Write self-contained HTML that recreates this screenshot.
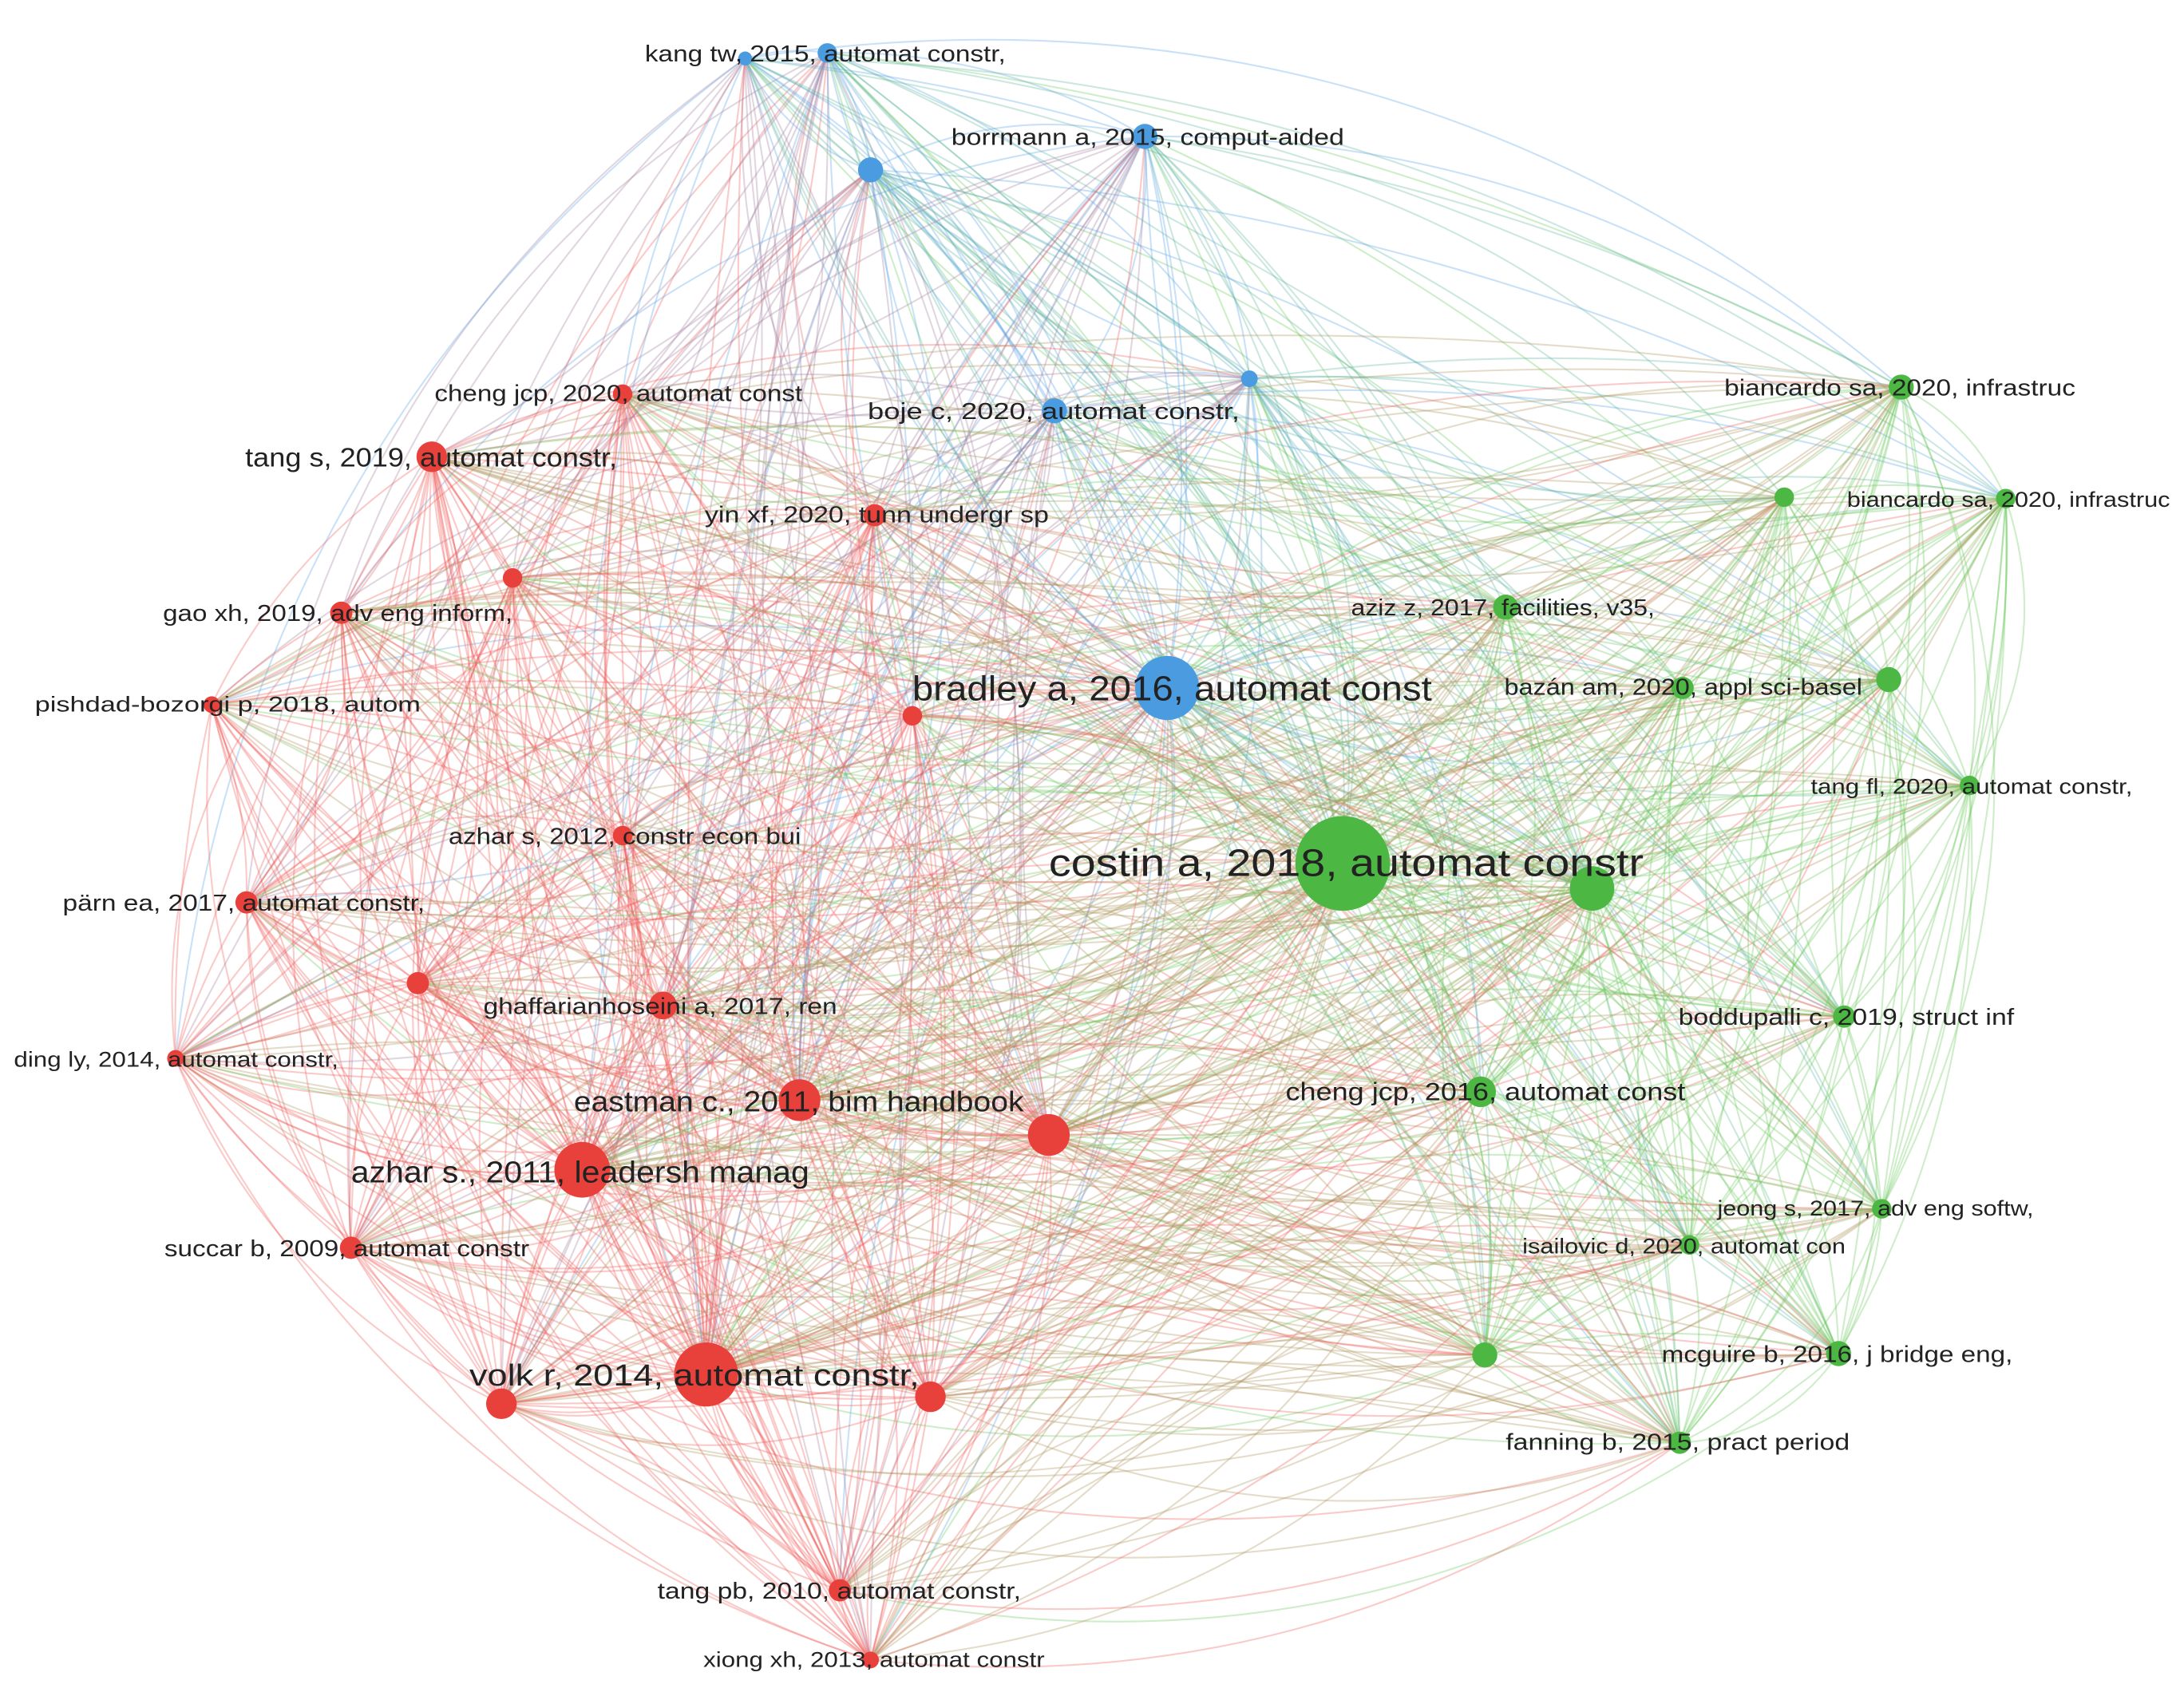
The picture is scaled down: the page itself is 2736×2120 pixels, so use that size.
<!DOCTYPE html>
<html><head><meta charset="utf-8"><style>
html,body{margin:0;padding:0;background:#fff;width:2736px;height:2120px;overflow:hidden}
svg{display:block}
text{font-family:"Liberation Sans",sans-serif;fill:#222}
</style></head><body>
<svg id="s" width="2736" height="2120" viewBox="0 0 1568 1215" preserveAspectRatio="none">
<g id="edges" fill="none" stroke-width="1.2" stroke-opacity="0.33"></g>
<g id="nodes">
<circle cx="594" cy="38" r="7" fill="#4a9be0"/>
<circle cx="535" cy="42" r="5" fill="#4a9be0"/>
<circle cx="625" cy="122" r="9" fill="#4a9be0"/>
<circle cx="822" cy="98" r="9" fill="#4a9be0"/>
<circle cx="757" cy="295" r="9" fill="#4a9be0"/>
<circle cx="897" cy="272" r="6" fill="#4a9be0"/>
<circle cx="838" cy="494" r="23" fill="#4a9be0"/>
<circle cx="447" cy="283" r="7" fill="#e8413c"/>
<circle cx="310" cy="328" r="11" fill="#e8413c"/>
<circle cx="368" cy="415" r="7" fill="#e8413c"/>
<circle cx="628" cy="370" r="8" fill="#e8413c"/>
<circle cx="245" cy="440" r="8" fill="#e8413c"/>
<circle cx="152" cy="506" r="6" fill="#e8413c"/>
<circle cx="655" cy="514" r="7" fill="#e8413c"/>
<circle cx="447" cy="600" r="7" fill="#e8413c"/>
<circle cx="177" cy="648" r="8" fill="#e8413c"/>
<circle cx="300" cy="706" r="8" fill="#e8413c"/>
<circle cx="476" cy="722" r="10" fill="#e8413c"/>
<circle cx="126" cy="760" r="6" fill="#e8413c"/>
<circle cx="574" cy="790" r="15" fill="#e8413c"/>
<circle cx="753" cy="815" r="15" fill="#e8413c"/>
<circle cx="418" cy="840" r="20" fill="#e8413c"/>
<circle cx="252" cy="896" r="8" fill="#e8413c"/>
<circle cx="507" cy="987" r="23" fill="#e8413c"/>
<circle cx="360" cy="1008" r="11" fill="#e8413c"/>
<circle cx="668" cy="1003" r="11" fill="#e8413c"/>
<circle cx="603" cy="1142" r="8" fill="#e8413c"/>
<circle cx="625" cy="1192" r="6" fill="#e8413c"/>
<circle cx="1365" cy="278" r="9" fill="#4cb843"/>
<circle cx="1281" cy="357" r="7" fill="#4cb843"/>
<circle cx="1440" cy="358" r="7" fill="#4cb843"/>
<circle cx="1081" cy="436" r="9" fill="#4cb843"/>
<circle cx="1208" cy="494" r="8" fill="#4cb843"/>
<circle cx="1356" cy="488" r="9" fill="#4cb843"/>
<circle cx="1414" cy="564" r="7" fill="#4cb843"/>
<circle cx="964" cy="620" r="34" fill="#4cb843"/>
<circle cx="1143" cy="638" r="16" fill="#4cb843"/>
<circle cx="1324" cy="730" r="8" fill="#4cb843"/>
<circle cx="1063" cy="784" r="11" fill="#4cb843"/>
<circle cx="1351" cy="868" r="7" fill="#4cb843"/>
<circle cx="1213" cy="894" r="7" fill="#4cb843"/>
<circle cx="1066" cy="973" r="9" fill="#4cb843"/>
<circle cx="1320" cy="972" r="9" fill="#4cb843"/>
<circle cx="1206" cy="1036" r="8" fill="#4cb843"/>
</g>
<g id="labels" font-size="16.5" lengthAdjust="spacingAndGlyphs">
<text x="463" y="44" textLength="259" lengthAdjust="spacingAndGlyphs">kang tw, 2015, automat constr,</text>
<text x="683" y="104" textLength="282" lengthAdjust="spacingAndGlyphs">borrmann a, 2015, comput-aided</text>
<text x="623" y="301" textLength="267" lengthAdjust="spacingAndGlyphs">boje c, 2020, automat constr,</text>
<text x="655" y="503" font-size="25" textLength="373" lengthAdjust="spacingAndGlyphs">bradley a, 2016, automat const</text>
<text x="312" y="288" textLength="264" lengthAdjust="spacingAndGlyphs">cheng jcp, 2020, automat const</text>
<text x="176" y="335" font-size="19" textLength="267" lengthAdjust="spacingAndGlyphs">tang s, 2019, automat constr,</text>
<text x="506" y="375" textLength="247" lengthAdjust="spacingAndGlyphs">yin xf, 2020, tunn undergr sp</text>
<text x="117" y="446" textLength="251" lengthAdjust="spacingAndGlyphs">gao xh, 2019, adv eng inform,</text>
<text x="25" y="511" font-size="15.5" textLength="277" lengthAdjust="spacingAndGlyphs">pishdad-bozorgi p, 2018, autom</text>
<text x="322" y="606" textLength="253" lengthAdjust="spacingAndGlyphs">azhar s, 2012, constr econ bui</text>
<text x="45" y="654" textLength="260" lengthAdjust="spacingAndGlyphs">pärn ea, 2017, automat constr,</text>
<text x="347" y="728" textLength="254" lengthAdjust="spacingAndGlyphs">ghaffarianhoseini a, 2017, ren</text>
<text x="10" y="766" font-size="15.5" textLength="233" lengthAdjust="spacingAndGlyphs">ding ly, 2014, automat constr,</text>
<text x="412" y="798" font-size="20.5" textLength="323" lengthAdjust="spacingAndGlyphs">eastman c., 2011, bim handbook</text>
<text x="252" y="849" font-size="22" textLength="329" lengthAdjust="spacingAndGlyphs">azhar s., 2011, leadersh manag</text>
<text x="118" y="902" textLength="262" lengthAdjust="spacingAndGlyphs">succar b, 2009, automat constr</text>
<text x="337" y="995" font-size="22" textLength="323" lengthAdjust="spacingAndGlyphs">volk r, 2014, automat constr,</text>
<text x="472" y="1148" textLength="261" lengthAdjust="spacingAndGlyphs">tang pb, 2010, automat constr,</text>
<text x="505" y="1197" font-size="15.5" textLength="245" lengthAdjust="spacingAndGlyphs">xiong xh, 2013, automat constr</text>
<text x="1238" y="284" textLength="252" lengthAdjust="spacingAndGlyphs">biancardo sa, 2020, infrastruc</text>
<text x="1326" y="364" font-size="15.5" textLength="232" lengthAdjust="spacingAndGlyphs">biancardo sa, 2020, infrastruc</text>
<text x="970" y="442" textLength="218" lengthAdjust="spacingAndGlyphs">aziz z, 2017, facilities, v35,</text>
<text x="1080" y="499" textLength="257" lengthAdjust="spacingAndGlyphs">bazán am, 2020, appl sci-basel</text>
<text x="1300" y="570" font-size="15.5" textLength="231" lengthAdjust="spacingAndGlyphs">tang fl, 2020, automat constr,</text>
<text x="753" y="629" font-size="27.5" textLength="427" lengthAdjust="spacingAndGlyphs">costin a, 2018, automat constr</text>
<text x="1205" y="736" textLength="241" lengthAdjust="spacingAndGlyphs">boddupalli c, 2019, struct inf</text>
<text x="923" y="790" font-size="18" textLength="287" lengthAdjust="spacingAndGlyphs">cheng jcp, 2016, automat const</text>
<text x="1233" y="873" font-size="15.5" textLength="227" lengthAdjust="spacingAndGlyphs">jeong s, 2017, adv eng softw,</text>
<text x="1093" y="900" font-size="15.5" textLength="232" lengthAdjust="spacingAndGlyphs">isailovic d, 2020, automat con</text>
<text x="1193" y="978" textLength="252" lengthAdjust="spacingAndGlyphs">mcguire b, 2016, j bridge eng,</text>
<text x="1081" y="1041" textLength="247" lengthAdjust="spacingAndGlyphs">fanning b, 2015, pract period</text>
</g>
</svg>
<script>
(function(){
var ns="http://www.w3.org/2000/svg";
var cs=document.querySelectorAll('#nodes circle');
var N=[];cs.forEach(function(c){var f=c.getAttribute('fill');N.push({x:+c.getAttribute('cx'),y:+c.getAttribute('cy'),r:+c.getAttribute('r'),c:f=='#4a9be0'?[90,165,230]:f=='#e8413c'?[240,95,90]:[105,200,90]});});
var seed=11;function rnd(){seed=(seed*16807)%2147483647;return seed/2147483647;}
var g=document.getElementById('edges');var cx=790,cy=610;
var frag=document.createDocumentFragment();
for(var i=0;i<N.length;i++){for(var j=i+1;j<N.length;j++){
 var a=N[i],b=N[j];
 var same=(a.c[0]==b.c[0]&&a.c[1]==b.c[1]);
 var reps=1+Math.floor((a.r+b.r)/22);
 for(var r=0;r<reps;r++){
 var p=same?0.85:0.5; p+= (a.r+b.r)/70;
 if(rnd()>p)continue;
 var mx=(a.x+b.x)/2,my=(a.y+b.y)/2,dx=b.x-a.x,dy=b.y-a.y;
 var nx=-dy,ny=dx;
 var ox=mx-cx,oy=my-cy; if(nx*ox+ny*oy<0){nx=-nx;ny=-ny;}
 if(rnd()<0.3){nx=-nx;ny=-ny;}
 var k=0.05+rnd()*0.2;
 var qx=mx+nx*k,qy=my+ny*k;
 var col=same?a.c:[(a.c[0]+b.c[0])/2,(a.c[1]+b.c[1])/2,(a.c[2]+b.c[2])/2];
 if(!same&&rnd()<0.4)col=rnd()<0.5?a.c:b.c;
 var pth=document.createElementNS(ns,'path');
 pth.setAttribute('d','M'+a.x+' '+a.y+'Q'+qx.toFixed(1)+' '+qy.toFixed(1)+' '+b.x+' '+b.y);
 pth.setAttribute('stroke','rgb('+col.map(Math.round).join(',')+')');
 frag.appendChild(pth);
 }
}}
g.appendChild(frag);
})();
</script>
</body></html>
